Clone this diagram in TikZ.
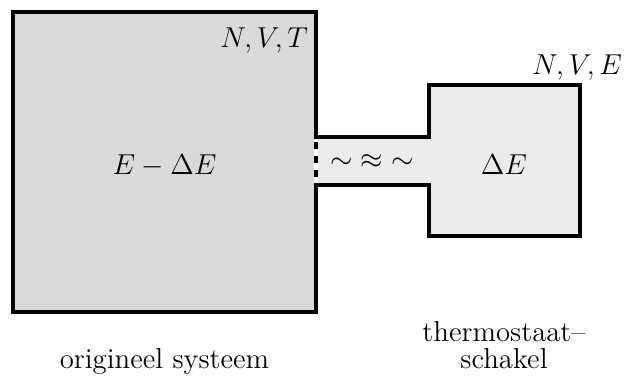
\documentclass[tikz,border=0pt]{standalone}
\usetikzlibrary{positioning}
\definecolor{sysgray}{HTML}{D9D9D9}
\definecolor{bathgray}{HTML}{EBEBEB}

\begin{document}
\begin{tikzpicture}[
  x=0.5pt, y=-0.5pt,
  every node/.style={font=\fontsize{14.4}{13.5}\selectfont, inner sep=0pt, outer sep=0pt},
  wall/.style={line width=2pt},
  gapline/.style={line width=2pt, dash pattern=on 3.5pt off 3.5pt, dash phase=5.4pt}
]
\useasboundingbox (0,0) rectangle (626,385);
\node (sys) [fill=sysgray, minimum width=151.5pt, minimum height=150pt] at (164.5,162) {};
\node (bath) [fill=bathgray, minimum width=75.25pt, minimum height=75.5pt] at (504.3,160.5) {};
\coordinate (chA) at (316,136.5);
\coordinate (chB) at (316,184.5);

\fill[bathgray] (chA) rectangle (chB -| bath.west);
\draw[wall] (chB) -- (sys.south east) -- (sys.south west) -- (sys.north west)
  -- (sys.north east) -- (chA) -- (chA -| bath.west) -- (bath.north west)
  -- (bath.north east) -- (bath.south east) -- (bath.south west)
  -- (chB -| bath.west) -- cycle;
\draw[wall, white] ([yshift=-1pt]chA) -- ([yshift=1pt]chB);
\draw[gapline] ([yshift=-1pt]chA) -- ([yshift=1pt]chB);

\node (nvt) [anchor=base east] at (308,48) {$N,V,T$};
\node (nve) [anchor=base east] at (622,75) {$N,V,E$};
\node (syse) [anchor=base] at (164.5,174) {$E-\Delta E$};
\node (bathe) [anchor=base] at (504,174) {$\Delta E$};
\node (link) [anchor=base] at (372,169) {$\sim\;\approx\;\sim$};
\node (syslabel) [anchor=base] at (164.5,368) {origineel systeem};
\node (bathlabel) [anchor=base, align=center] at (504,368) {thermostaat\textendash\\schakel};
\end{tikzpicture}
\end{document}
